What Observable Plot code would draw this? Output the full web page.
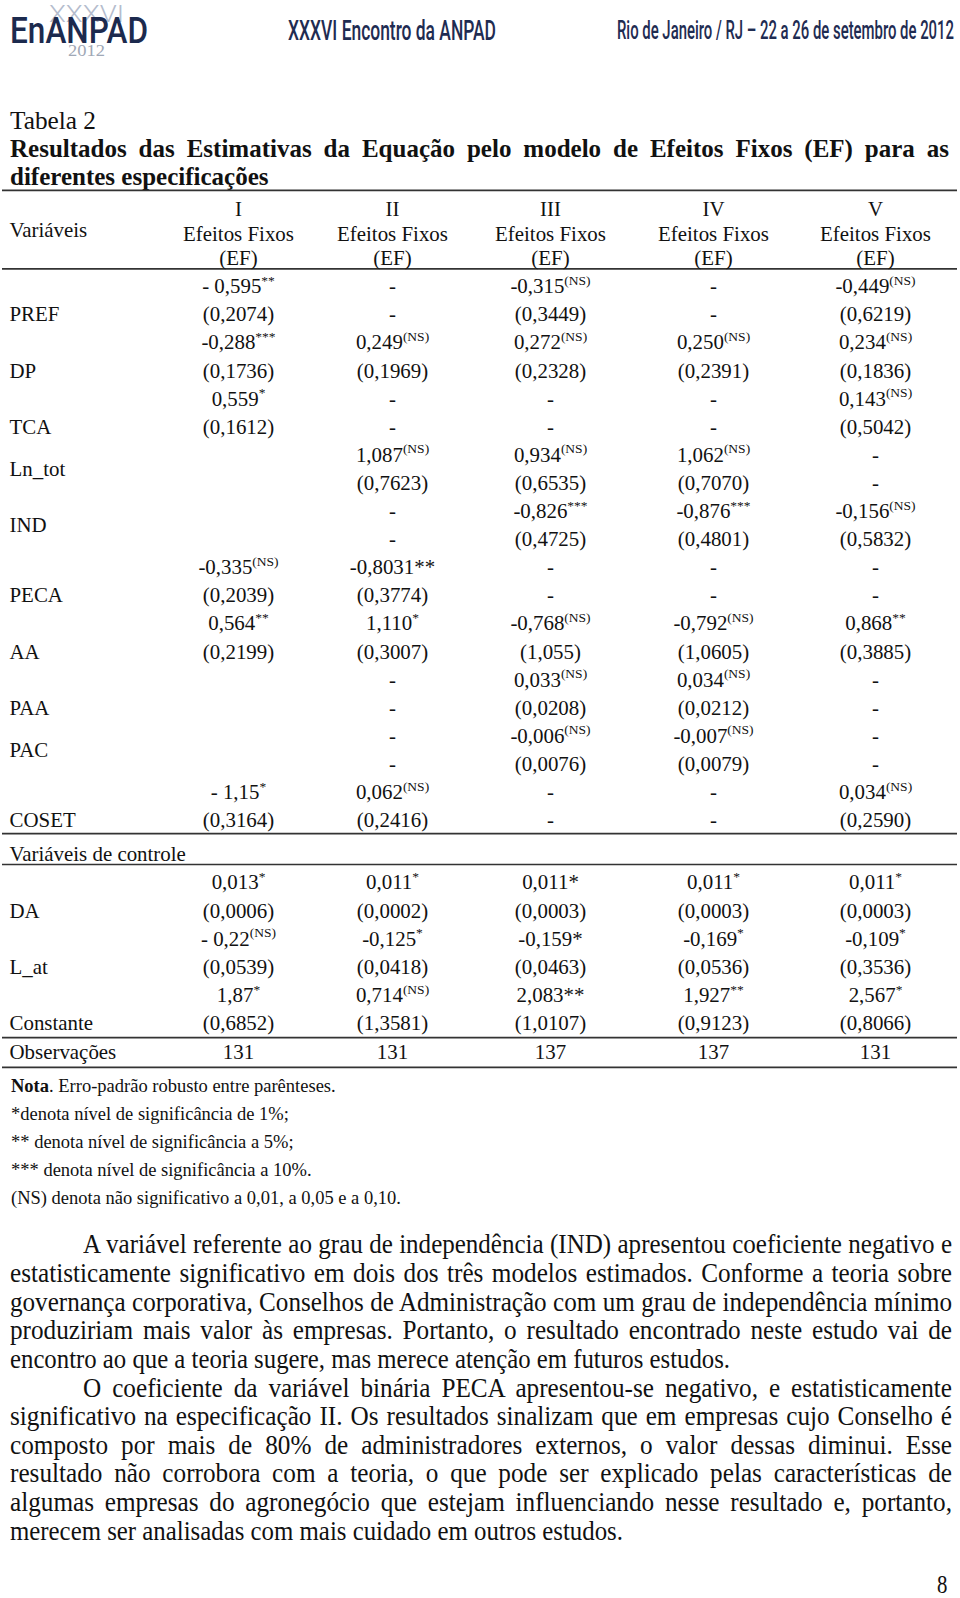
<!DOCTYPE html>
<html>
<head>
<meta charset="utf-8">
<script src="https://cdn.jsdelivr.net/npm/d3@7"></script>
<script src="https://cdn.jsdelivr.net/npm/@observablehq/plot@0.6"></script>
<style>
html,body{margin:0;padding:0;background:#fff;}
#page{position:relative;width:960px;height:1598px;overflow:hidden;background:#fff;}
</style>
</head>
<body>
<div id="page"></div>
<script>
// ---------------- DATA ----------------
const variables   = ["PREF","DP","TCA","Ln_tot","IND","PECA","AA","PAA","PAC","COSET"];
const midLabels   = ["Ln_tot","IND","PAC"];
const controlVars = ["DA","L_at","Constante"];
const models      = ["I","II","III","IV","V"];
const estimator   = ["Efeitos Fixos","(EF)"];

// "^" separates the superscript part of a cell
const coefI   = ["- 0,595^**","-0,288^***","0,559^*","","","-0,335^(NS)","0,564^**","","","- 1,15^*"];
const seI     = ["(0,2074)","(0,1736)","(0,1612)","","","(0,2039)","(0,2199)","","","(0,3164)"];
const coefII  = ["-","0,249^(NS)","-","1,087^(NS)","-","-0,8031**","1,110^*","-","-","0,062^(NS)"];
const seII    = ["-","(0,1969)","-","(0,7623)","-","(0,3774)","(0,3007)","-","-","(0,2416)"];
const coefIII = ["-0,315^(NS)","0,272^(NS)","-","0,934^(NS)","-0,826^***","-","-0,768^(NS)","0,033^(NS)","-0,006^(NS)","-"];
const seIII   = ["(0,3449)","(0,2328)","-","(0,6535)","(0,4725)","-","(1,055)","(0,0208)","(0,0076)","-"];
const coefIV  = ["-","0,250^(NS)","-","1,062^(NS)","-0,876^***","-","-0,792^(NS)","0,034^(NS)","-0,007^(NS)","-"];
const seIV    = ["-","(0,2391)","-","(0,7070)","(0,4801)","-","(1,0605)","(0,0212)","(0,0079)","-"];
const coefV   = ["-0,449^(NS)","0,234^(NS)","0,143^(NS)","-","-0,156^(NS)","-","0,868^**","-","-","0,034^(NS)"];
const seV     = ["(0,6219)","(0,1836)","(0,5042)","-","(0,5832)","-","(0,3885)","-","-","(0,2590)"];

const ctrlCoefI   = ["0,013^*","- 0,22^(NS)","1,87^*"];
const ctrlSeI     = ["(0,0006)","(0,0539)","(0,6852)"];
const ctrlCoefII  = ["0,011^*","-0,125^*","0,714^(NS)"];
const ctrlSeII    = ["(0,0002)","(0,0418)","(1,3581)"];
const ctrlCoefIII = ["0,011*","-0,159*","2,083**"];
const ctrlSeIII   = ["(0,0003)","(0,0463)","(1,0107)"];
const ctrlCoefIV  = ["0,011^*","-0,169^*","1,927^**"];
const ctrlSeIV    = ["(0,0003)","(0,0536)","(0,9123)"];
const ctrlCoefV   = ["0,011^*","-0,109^*","2,567^*"];
const ctrlSeV     = ["(0,0003)","(0,3536)","(0,8066)"];
const observations = [131,131,137,137,131];

const noteLines = [
  "<b>Nota</b>. Erro-padrão robusto entre parênteses.",
  "*denota nível de significância de 1%;",
  "** denota nível de significância a 5%;",
  "*** denota nível de significância a 10%.",
  "(NS) denota não significativo a 0,01, a 0,05 e a 0,10."
];
const paragraphLines = [
  {t:"A variável referente ao grau de independência (IND) apresentou coeficiente negativo e", indent:true, just:true},
  {t:"estatisticamente significativo em dois dos três modelos estimados. Conforme a teoria sobre", just:true},
  {t:"governança corporativa, Conselhos de Administração com um grau de independência mínimo", just:true},
  {t:"produziriam mais valor às empresas. Portanto, o resultado encontrado neste estudo vai de", just:true},
  {t:"encontro ao que a teoria sugere, mas merece atenção em futuros estudos.", w:720},
  {t:"O coeficiente da variável binária PECA apresentou-se negativo, e estatisticamente", indent:true, just:true},
  {t:"significativo na especificação II. Os resultados sinalizam que em empresas cujo Conselho é", just:true},
  {t:"composto por mais de 80% de administradores externos, o valor dessas diminui. Esse", just:true},
  {t:"resultado não corrobora com a teoria, o que pode ser explicado pelas características de", just:true},
  {t:"algumas empresas do agronegócio que estejam influenciando nesse resultado e, portanto,", just:true},
  {t:"merecem ser analisadas com mais cuidado em outros estudos.", w:613}
];

// ---------------- PAGE TEXT HELPERS ----------------
const page = document.getElementById("page");
const SERIF = '"Liberation Serif","Times New Roman",serif';
const SANS = 'Roboto,"DejaVu Sans",sans-serif';
function textLine(o) {
  const d = document.createElement("div");
  d.style.position = "absolute";
  d.style.whiteSpace = "nowrap";
  d.style.fontFamily = o.family || SERIF;
  d.style.fontSize = o.size + "px";
  d.style.lineHeight = o.size + "px";
  d.style.fontWeight = o.weight || "normal";
  d.style.color = o.color || "#111";
  d.style.left = o.x + "px";
  d.style.top = (o.baseline - 0.84 * o.size) + "px";
  if (o.html) d.innerHTML = o.html; else d.textContent = o.text;
  page.appendChild(d);
  let s = o.scale || 1;
  if (o.width) {
    const natural = d.getBoundingClientRect().width;
    if (o.justify) {
      s = Math.min(s, o.width / natural * 0.998);
      d.style.width = (o.width / s) + "px";
      d.style.whiteSpace = "normal";
      d.style.textAlign = "justify";
      d.style.textAlignLast = "justify";
    } else {
      s = o.width / natural;
    }
  }
  if (s !== 1) { d.style.transformOrigin = "0 0"; d.style.transform = `scaleX(${s})`; }
  return d;
}

// header band
textLine({text:"XXXVI", x:49, baseline:22, size:23, family:SANS, weight:300, color:"#b4bccd", width:75});
textLine({text:"EnANPAD", x:10, baseline:43, size:36, family:SANS, weight:500, color:"#1c2a4e", width:138});
textLine({text:"2012", x:68, baseline:56, size:16, family:SERIF, color:"#a0a8b6", width:37});
textLine({text:"XXXVI Encontro da ANPAD", x:288, baseline:41, size:27, family:SANS, weight:500, color:"#1f2c52", width:208});
textLine({text:"Rio de Janeiro / RJ – 22 a 26 de setembro de 2012", x:617, baseline:39, size:25, family:SANS, weight:500, color:"#1f2c52", width:337});

// title
textLine({text:"Tabela 2", x:10, baseline:129, size:25.3});
textLine({text:"Resultados das Estimativas da Equação pelo modelo de Efeitos Fixos (EF) para as", x:10, baseline:157, size:25, weight:"bold", width:939, justify:true});
textLine({text:"diferentes especificações", x:10, baseline:185, size:25, weight:"bold"});

// ---------------- TABLE (Observable Plot) ----------------
const TOP = 180, H = 900, ROW0 = 286, LINE = 28.1;
const layout = {
  topRule: -3.42, headLines: [-2.74, -1.85, -1.0], varHeader: -1.99, headRule: -0.63,
  mainRule: 19.47, ctrlLabel: 20.2, ctrlRule: 20.57, ctrlStart: 21.22,
  obsRule: 26.73, obs: 27.26, endRule: 27.79
};
// column centres of the printed table (piecewise-linear position scale)
const colCentres = [238, 392, 550, 713, 875];

const coefs = [coefI, coefII, coefIII, coefIV, coefV];
const ses = [seI, seII, seIII, seIV, seV];
const ctrlCoefs = [ctrlCoefI, ctrlCoefII, ctrlCoefIII, ctrlCoefIV, ctrlCoefV];
const ctrlSes = [ctrlSeI, ctrlSeII, ctrlSeIII, ctrlSeIV, ctrlSeV];

const cells = [];
const labels = [];
variables.forEach((v, i) => {
  labels.push({label: v, line: midLabels.includes(v) ? 2*i + 0.5 : 2*i + 1});
  models.forEach((m, j) => {
    if (coefs[j][i]) cells.push({model: m, line: 2*i, text: coefs[j][i]});
    if (ses[j][i]) cells.push({model: m, line: 2*i + 1, text: ses[j][i]});
  });
});
controlVars.forEach((v, k) => {
  labels.push({label: v, line: layout.ctrlStart + 2*k + 1});
  models.forEach((m, j) => {
    cells.push({model: m, line: layout.ctrlStart + 2*k, text: ctrlCoefs[j][k]});
    cells.push({model: m, line: layout.ctrlStart + 2*k + 1, text: ctrlSes[j][k]});
  });
});
labels.push({label: "Variáveis", line: layout.varHeader});
labels.push({label: "Variáveis de controle", line: layout.ctrlLabel});
labels.push({label: "Observações", line: layout.obs});
models.forEach((m, j) => cells.push({model: m, line: layout.obs, text: String(observations[j])}));

const headers = [];
models.forEach(m => {
  [m, ...estimator].forEach((t, k) => headers.push({model: m, line: layout.headLines[k], text: t}));
});

const rules = [layout.topRule, layout.headRule, layout.mainRule, layout.ctrlRule, layout.obsRule, layout.endRule];
const colIndex = d => models.indexOf(d.model);

const FS = 20.9;
const plot = Plot.plot({
  width: 960,
  height: H,
  marginTop: 0, marginBottom: 0, marginLeft: 2, marginRight: 3,
  x: {type: "linear", domain: d3.range(models.length), range: colCentres, axis: null},
  y: {domain: [-(ROW0 - TOP) / LINE, (H - (ROW0 - TOP)) / LINE], range: [0, H], axis: null},
  style: {fontFamily: SERIF, fontSize: FS + "px", color: "#111", background: "transparent", overflow: "visible"},
  marks: [
    Plot.ruleY(rules, {stroke: "#333", strokeWidth: 1.7}),
    Plot.text(headers, {x: colIndex, y: "line", text: "text", fontSize: FS, fill: "#111"}),
    Plot.text(cells, {x: colIndex, y: "line", text: "text", fontSize: FS, fill: "#111"}),
    Plot.text(labels, {y: "line", text: "label", frameAnchor: "left", textAnchor: "start", dx: 7, fontSize: FS, fill: "#111"})
  ]
});

// superscripts
plot.querySelectorAll("text").forEach(t => {
  const walker = document.createTreeWalker(t, NodeFilter.SHOW_TEXT);
  const nodes = [];
  while (walker.nextNode()) nodes.push(walker.currentNode);
  nodes.forEach(n => {
    const k = n.data.indexOf("^");
    if (k < 0) return;
    const sup = n.data.slice(k + 1);
    n.data = n.data.slice(0, k);
    const ts = document.createElementNS("http://www.w3.org/2000/svg", "tspan");
    ts.setAttribute("dy", "-0.62em");
    ts.setAttribute("font-size", "13.5");
    ts.textContent = sup;
    n.parentNode.insertBefore(ts, n.nextSibling);
  });
});
plot.style.position = "absolute";
plot.style.left = "0px";
plot.style.top = TOP + "px";
page.appendChild(plot);

// ---------------- NOTES ----------------
noteLines.forEach((h, i) => textLine({html: h, x: 11, baseline: 1092.5 + 28.1 * i, size: 18.5}));

// ---------------- PARAGRAPH ----------------
const PS = 28, PSCALE = 0.9;
paragraphLines.forEach((l, i) => {
  const x = l.indent ? 83 : 10;
  const base = 1254 + 28.62 * i;
  if (l.just) textLine({text: l.t, x, baseline: base, size: PS, width: 952 - x, justify: true, scale: PSCALE});
  else textLine({text: l.t, x, baseline: base, size: PS, width: l.w});
});
textLine({text: "8", x: 937, baseline: 1594, size: 26, scale: 0.8});
</script>
</body>
</html>
